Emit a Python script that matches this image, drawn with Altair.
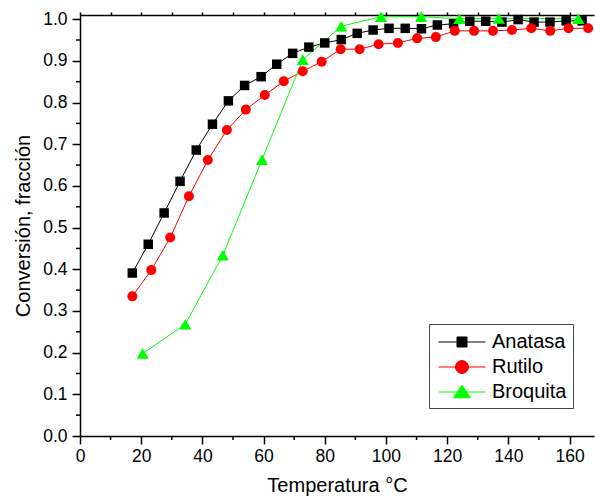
import altair as alt
import pandas as pd

# ---- data ----
series_names = ["Anatasa", "Rutilo", "Broquita"]
series_colors = ["#000000", "#FF0000", "#00FF00"]

anatasa_T = [17.1, 22.3, 27.5, 32.7, 38.0, 43.3, 48.5, 53.8, 59.2, 64.3, 69.5, 74.8, 80.0, 85.4,
             90.6, 95.8, 101.0, 106.3, 111.6, 116.8, 122.1, 127.4, 132.6, 137.9, 143.2, 148.4,
             153.6, 158.9, 164.1]
anatasa_C = [0.391, 0.460, 0.535, 0.611, 0.686, 0.748, 0.804, 0.841, 0.862, 0.892, 0.918, 0.933,
             0.943, 0.951, 0.966, 0.974, 0.978, 0.978, 0.977, 0.986, 0.989, 0.995, 0.995, 0.993,
             0.999, 0.993, 0.993, 0.996, 0.996]

rutilo_T = [17.1, 23.3, 29.5, 35.6, 41.8, 48.0, 54.2, 60.4, 66.6, 72.8, 79.0, 85.2, 91.4, 97.6,
            103.9, 110.2, 116.3, 122.5, 128.8, 135.0, 141.2, 147.5, 153.7, 159.7, 166.1]
rutilo_C = [0.335, 0.398, 0.476, 0.575, 0.662, 0.734, 0.783, 0.818, 0.851, 0.875, 0.898, 0.928,
            0.928, 0.940, 0.943, 0.954, 0.957, 0.972, 0.972, 0.972, 0.974, 0.978, 0.972, 0.978,
            0.978]

broquita_T = [20.5, 34.4, 46.7, 59.5, 72.8, 85.4, 98.4, 111.5, 124.0, 136.9, 162.9]
broquita_C = [0.198, 0.268, 0.434, 0.663, 0.903, 0.983, 1.006, 1.006, 1.001, 1.002, 1.001]

x_major_ticks = list(range(0, 170, 20))
x_minor_ticks = list(range(10, 170, 20))
x_top_ticks = list(range(0, 170, 10))
y_major_ticks = [round(i * 0.1, 1) for i in range(11)]
y_minor_ticks = [round(0.05 + i * 0.1, 2) for i in range(10)]

rows = []
for name, T, C in [("Anatasa", anatasa_T, anatasa_C),
                   ("Rutilo", rutilo_T, rutilo_C),
                   ("Broquita", broquita_T, broquita_C)]:
    for t, c in zip(T, C):
        rows.append({"serie": name, "T": t, "C": c})
df = pd.DataFrame(rows)

W, H = 514, 421
FONT = "Liberation Sans"
xscale = alt.Scale(domain=[0, 168], nice=False, zero=False)
yscale = alt.Scale(domain=[0, 1.01], nice=False, zero=False)

common = dict(grid=False, domainColor="#000", tickColor="#000", domainWidth=1.5, tickWidth=1.5,
              labelColor="#000", titleColor="#000", titleFontWeight="normal",
              labelFont=FONT, titleFont=FONT, labelFlush=False, labelOverlap=False)

x_axis = alt.Axis(values=x_major_ticks, orient="bottom", title="Temperatura °C", format="d",
                  tickSize=8, labelFontSize=17.5, titleFontSize=20, labelPadding=3,
                  titlePadding=11, **common)
y_axis = alt.Axis(values=y_major_ticks, orient="left", title="Conversión, fracción", format=".1f",
                  tickSize=8, labelFontSize=17.5, titleFontSize=20, labelPadding=5,
                  titlePadding=9, **common)
top_axis = alt.Axis(values=x_top_ticks, orient="top", title=None, labels=False, tickSize=3,
                    grid=False, domainColor="#000", tickColor="#000", domainWidth=1.5,
                    tickWidth=1.5)

shapes = {"Anatasa": "square", "Rutilo": "circle", "Broquita": "triangle-up"}
sizes = {"Anatasa": 90, "Rutilo": 100, "Broquita": 150}

layers = []
first = True
for name, col in zip(series_names, series_colors):
    base = alt.Chart(df).transform_filter(alt.datum.serie == name)
    layers.append(
        base.mark_line(color=col, strokeWidth=1).encode(
            x=alt.X("T:Q", scale=xscale, axis=x_axis if first else None),
            y=alt.Y("C:Q", scale=yscale, axis=y_axis) if first else alt.Y("C:Q", scale=yscale),
            order="T:Q",
        )
    )
    first = False
for name, col in zip(series_names, series_colors):
    base = alt.Chart(df).transform_filter(alt.datum.serie == name)
    layers.append(
        base.mark_point(shape=shapes[name], filled=True, color=col, opacity=1,
                        size=sizes[name], strokeWidth=0).encode(
            x=alt.X("T:Q", scale=xscale, axis=None),
            y=alt.Y("C:Q", scale=yscale),
        )
    )

# minor ticks
xminor_df = pd.DataFrame({"T": x_minor_ticks})
yminor_df = pd.DataFrame({"C": y_minor_ticks})
layers.append(
    alt.Chart(xminor_df).mark_rule(color="#000", strokeWidth=1.5).encode(
        x=alt.X("T:Q", scale=xscale, axis=None),
        y=alt.value(H), y2=alt.value(H + 4),
    )
)
layers.append(
    alt.Chart(yminor_df).mark_rule(color="#000", strokeWidth=1.5).encode(
        y=alt.Y("C:Q", scale=yscale),
        x=alt.value(0), x2=alt.value(-4),
    )
)

# legend symbols: line + marker + line as custom paths (unit = 11.5 px)
leg_line = "M-0.74,0H3.348"
legend_paths = [
    leg_line + "M0.869,-0.435H1.739V0.435H0.869Z",
    leg_line + "M0.739,0A0.565,0.565 0 1,0 1.869,0A0.565,0.565 0 1,0 0.739,0Z",
    leg_line + "M1.304,-0.6L2.043,0.5L0.565,0.5Z",
]

leg = alt.Legend(title=None, orient="none", legendX=349, legendY=309)
legend_layer = alt.Chart(df).mark_point(opacity=0).encode(
    x=alt.X("T:Q", scale=xscale, axis=top_axis),
    y=alt.Y("C:Q", scale=yscale),
    fill=alt.Fill("serie:N", scale=alt.Scale(domain=series_names, range=series_colors), legend=leg),
    stroke=alt.Stroke("serie:N", scale=alt.Scale(domain=series_names, range=series_colors), legend=leg),
    shape=alt.Shape("serie:N", scale=alt.Scale(domain=series_names, range=legend_paths), legend=leg),
)
layers.append(legend_layer)

chart = alt.layer(*layers).resolve_axis(x="independent").properties(
    width=W, height=H,
    background="#FFFFFF",
    autosize=alt.AutoSizeParams(type="none"),
    padding={"left": 80, "top": 15, "right": 1, "bottom": 62},
).configure_view(stroke=None).configure_legend(
    padding=6, symbolSize=529, symbolStrokeWidth=1, symbolOpacity=1,
    labelFont=FONT, labelFontSize=20, labelColor="#000", labelOffset=33,
    rowPadding=3, fillColor="#FFFFFF", strokeColor="#444444",
)

chart.save("out.html", embed_options={"renderer": "svg", "actions": False})
